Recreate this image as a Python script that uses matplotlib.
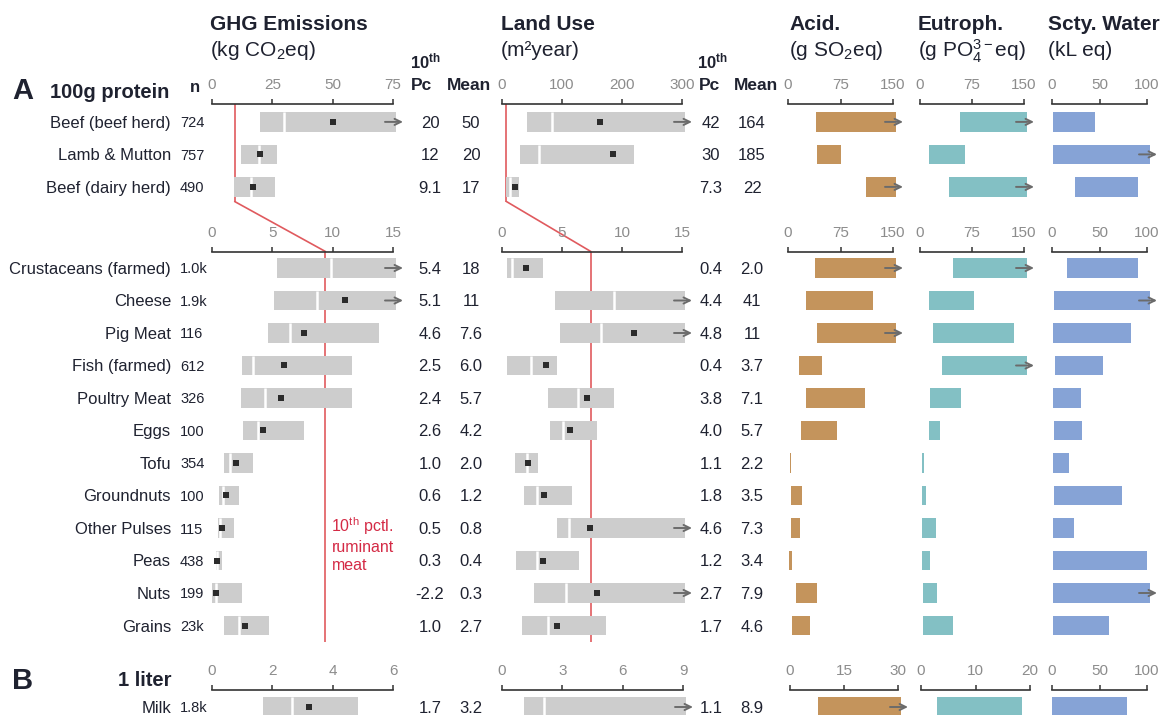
import matplotlib
matplotlib.use('Agg')
import matplotlib.pyplot as plt
from matplotlib import transforms as mtransforms
from matplotlib.patches import ConnectionPatch

plt.rcParams['font.family'] = ['Liberation Sans', 'DejaVu Sans']
plt.rcParams['mathtext.fontset'] = 'custom'
plt.rcParams['mathtext.rm'] = 'Liberation Sans'
plt.rcParams['mathtext.it'] = 'Liberation Sans:italic'
plt.rcParams['mathtext.bf'] = 'Liberation Sans:bold'

W, H = 1164, 715

# --- ruminant meats (upper block, wide scales) ---
meat_items = ['Beef (beef herd)', 'Lamb & Mutton', 'Beef (dairy herd)']
meat_n = ['724', '757', '490']
meat_ghg_p10 = [20, 12, 9.1]
meat_ghg_med = [30, 19.5, 16]
meat_ghg_mean = [50, 20, 17]
meat_ghg_p90 = [105, 27, 26]
meat_land_p10 = [42, 30, 7.3]
meat_land_med = [84, 62, 14]
meat_land_mean = [164, 185, 22]
meat_land_p90 = [370, 220, 29]
meat_acid_lo = [40, 42, 111]
meat_acid_hi = [250, 75, 200]
meat_eut_lo = [57, 13, 42]
meat_eut_hi = [300, 65, 250]
meat_wat_lo = [1, 1, 24]
meat_wat_hi = [45, 150, 91]

# --- other protein sources (lower block) ---
items = ['Crustaceans (farmed)', 'Cheese', 'Pig Meat', 'Fish (farmed)',
         'Poultry Meat', 'Eggs', 'Tofu', 'Groundnuts', 'Other Pulses',
         'Peas', 'Nuts', 'Grains']
n_obs = ['1.0k', '1.9k', '116', '612', '326', '100', '354', '100', '115',
         '438', '199', '23k']
ghg_p10 = [5.4, 5.1, 4.6, 2.5, 2.4, 2.6, 1.0, 0.6, 0.5, 0.3, -2.2, 1.0]
ghg_med = [9.9, 8.7, 6.5, 3.4, 4.4, 3.8, 1.5, 0.9, 0.65, 0.4, 0.35, 2.2]
ghg_mean = [18, 11, 7.6, 6.0, 5.7, 4.2, 2.0, 1.2, 0.8, 0.4, 0.3, 2.7]
ghg_p90 = [27, 18, 13.8, 11.6, 11.6, 7.6, 3.4, 2.2, 1.85, 0.8, 2.5, 4.75]
land_p10 = [0.4, 4.4, 4.8, 0.4, 3.8, 4.0, 1.1, 1.8, 4.6, 1.2, 2.7, 1.7]
land_med = [0.8, 9.3, 8.25, 2.4, 6.3, 5.1, 2.05, 2.9, 5.6, 2.9, 5.3, 3.8]
land_mean = [2.0, 41, 11, 3.7, 7.1, 5.7, 2.2, 3.5, 7.3, 3.4, 7.9, 4.6]
land_p90 = [3.4, 60, 20, 4.55, 9.3, 7.9, 3.0, 5.8, 22, 6.4, 25, 8.7]
acid_lo = [39, 26, 42, 15, 25, 18, 2.5, 4, 4.4, 1.5, 12, 6.3]
acid_hi = [190, 121, 170, 48, 110, 70, 4.5, 20, 17, 5, 42, 31]
eut_lo = [48, 13, 19, 32, 14, 13, 2.4, 2.4, 2.4, 2.4, 4.8, 3.8]
eut_hi = [240, 78, 136, 200, 59, 29, 6, 8, 22.5, 14, 25, 47]
wat_lo = [16, 1.7, 0.6, 3.5, 0.6, 1.7, 0.6, 1.7, 0.6, 0.6, 0.6, 0.6]
wat_hi = [90, 180, 83, 54, 30, 32, 18, 74, 23, 100, 200, 60]

# --- panel B: 1 liter of milk ---
milk_items = ['Milk']
milk_n = ['1.8k']
milk_ghg_p10 = [1.7]
milk_ghg_med = [2.66]
milk_ghg_mean = [3.2]
milk_ghg_p90 = [4.85]
milk_land_p10 = [1.1]
milk_land_med = [2.1]
milk_land_mean = [8.9]
milk_land_p90 = [20]
milk_acid_lo, milk_acid_hi = [7.7], [40]
milk_eut_lo, milk_eut_hi = [3.0], [18.5]
milk_wat_lo, milk_wat_hi = [0.4], [79]

# 10th percentile of ruminant meat, used as reference line
ruminant_ghg = 9.4
ruminant_land = 7.4

GREY = '#cdcdcd'
ARROW = '#6b6b6b'
ACID = '#c4945c'
EUT = '#83c0c4'
WAT = '#86a3d6'
RED = '#e05a5e'
TXT = '#1f2230'

ROW = 32.5
BAR_H = 0.6

fig = plt.figure(figsize=(W / 100, H / 100), dpi=100)
# pixel coordinates with origin at top-left
px = mtransforms.Affine2D().scale(1 / W, -1 / H).translate(0, 1) + fig.transFigure


def make_axes(x0, x1, spine_y, row0_y, bottom, xmax, ticks):
    top = (row0_y - spine_y) / ROW
    h = (bottom + top) * ROW
    ax = fig.add_axes([x0 / W, 1 - (spine_y + h) / H, (x1 - x0) / W, h / H])
    ax.set_xlim(0, xmax)
    ax.set_ylim(bottom, -top)
    ax.patch.set_visible(False)
    for side in ('left', 'right', 'bottom'):
        ax.spines[side].set_visible(False)
    ax.spines['top'].set_color('#333333')
    ax.spines['top'].set_linewidth(1.2)
    ax.xaxis.tick_top()
    ax.set_xticks(ticks)
    ax.set_xticklabels([str(t) for t in ticks])
    ax.tick_params(axis='x', direction='out', length=3.5, width=1.1,
                   color='#333333', labelsize=11, labelcolor='#8c8c8c', pad=5)
    ax.set_yticks([])
    return ax


def per_px(ax):
    # data units per pixel along x
    return ax.get_xlim()[1] / (ax.get_position().width * W)


def add_arrow(ax, y):
    xmax = ax.get_xlim()[1]
    k = per_px(ax)
    ax.annotate('', xy=(xmax + 10 * k, y), xytext=(xmax - 8 * k, y),
                arrowprops=dict(arrowstyle='->,head_length=0.45,head_width=0.22',
                                color=ARROW, lw=1.4, mutation_scale=10,
                                shrinkA=0, shrinkB=0),
                annotation_clip=False)


def draw_ranges(ax, p10, med, mean, p90):
    xmax = ax.get_xlim()[1]
    k = per_px(ax)
    for i, (lo, md, mu, hi) in enumerate(zip(p10, med, mean, p90)):
        left = max(lo, 0)
        right = min(hi, xmax + 3 * k)
        ax.barh(i, right - left, left=left, height=BAR_H, color=GREY,
                lw=0, clip_on=False)
        if left < md < right:
            ax.vlines(md, i - BAR_H / 2, i + BAR_H / 2, color='white', lw=1.8)
        clipped = hi > xmax
        if mu < xmax - (10 * k if clipped else 0):
            ax.plot(mu, i, 's', ms=5, color='#2b2b2b', mew=0)
        if clipped:
            add_arrow(ax, i)


def draw_bars(ax, lo, hi, color):
    xmax = ax.get_xlim()[1]
    k = per_px(ax)
    for i, (a, b) in enumerate(zip(lo, hi)):
        right = min(b, xmax + 3 * k)
        ax.barh(i, right - a, left=a, height=BAR_H, color=color, lw=0,
                clip_on=False)
        if b > xmax:
            add_arrow(ax, i)


def fmt(v):
    return f'{v:.1f}' if abs(v) < 10 else f'{v:.0f}'


def row_text(ax, labels, n, g_p10, g_mean, l_p10, l_mean):
    tr = mtransforms.blended_transform_factory(px, ax.transData)
    for i in range(len(labels)):
        ax.text(171, i, labels[i], transform=tr, ha='right',
                va='center_baseline', fontsize=12, color=TXT)
        ax.text(180, i, n[i], transform=tr, ha='left',
                va='center_baseline', fontsize=10.5, color=TXT)
        ax.text(430, i, fmt(g_p10[i]), transform=tr, ha='center',
                va='center_baseline', fontsize=12, color=TXT)
        ax.text(471, i, fmt(g_mean[i]), transform=tr, ha='center',
                va='center_baseline', fontsize=12, color=TXT)
        ax.text(711, i, fmt(l_p10[i]), transform=tr, ha='center',
                va='center_baseline', fontsize=12, color=TXT)
        ax.text(752, i, fmt(l_mean[i]), transform=tr, ha='center',
                va='center_baseline', fontsize=12, color=TXT)


# upper block
g_top = make_axes(212, 393, 104, 121.9, 2.45, 75, [0, 25, 50, 75])
l_top = make_axes(502, 682, 104, 121.9, 2.45, 300, [0, 100, 200, 300])
a_top = make_axes(788, 893, 104, 121.9, 2.45, 150, [0, 75, 150])
e_top = make_axes(920, 1024, 104, 121.9, 2.45, 150, [0, 75, 150])
w_top = make_axes(1052, 1147, 104, 121.9, 2.45, 100, [0, 50, 100])

# lower block
g_low = make_axes(212, 393, 251.5, 268, 11.5, 15, [0, 5, 10, 15])
l_low = make_axes(502, 682, 251.5, 268, 11.5, 15, [0, 5, 10, 15])
a_low = make_axes(788, 893, 251.5, 268, 11.5, 150, [0, 75, 150])
e_low = make_axes(920, 1024, 251.5, 268, 11.5, 150, [0, 75, 150])
w_low = make_axes(1052, 1147, 251.5, 268, 11.5, 100, [0, 50, 100])

# milk
g_b = make_axes(212, 393, 689.5, 707, 0.5, 6, [0, 2, 4, 6])
l_b = make_axes(502, 683, 689.5, 707, 0.5, 9, [0, 3, 6, 9])
a_b = make_axes(790, 898, 689.5, 707, 0.5, 30, [0, 15, 30])
e_b = make_axes(921, 1030, 689.5, 707, 0.5, 20, [0, 10, 20])
w_b = make_axes(1052, 1147, 689.5, 707, 0.5, 100, [0, 50, 100])

# reference line for ruminant meat
for top_ax, low_ax, val in ((g_top, g_low, ruminant_ghg),
                            (l_top, l_low, ruminant_land)):
    top_ax.plot([val, val], [top_ax.get_ylim()[1], top_ax.get_ylim()[0]],
                color=RED, lw=1.2, zorder=0)
    low_ax.plot([val, val], [low_ax.get_ylim()[1], low_ax.get_ylim()[0]],
                color=RED, lw=1.2, zorder=0)
    fig.add_artist(ConnectionPatch(
        xyA=(val, top_ax.get_ylim()[0]), coordsA=top_ax.transData,
        xyB=(val, low_ax.get_ylim()[1]), coordsB=low_ax.transData,
        color=RED, lw=1.2, zorder=0))

draw_ranges(g_top, meat_ghg_p10, meat_ghg_med, meat_ghg_mean, meat_ghg_p90)
draw_ranges(l_top, meat_land_p10, meat_land_med, meat_land_mean, meat_land_p90)
draw_bars(a_top, meat_acid_lo, meat_acid_hi, ACID)
draw_bars(e_top, meat_eut_lo, meat_eut_hi, EUT)
draw_bars(w_top, meat_wat_lo, meat_wat_hi, WAT)

draw_ranges(g_low, ghg_p10, ghg_med, ghg_mean, ghg_p90)
draw_ranges(l_low, land_p10, land_med, land_mean, land_p90)
draw_bars(a_low, acid_lo, acid_hi, ACID)
draw_bars(e_low, eut_lo, eut_hi, EUT)
draw_bars(w_low, wat_lo, wat_hi, WAT)

draw_ranges(g_b, milk_ghg_p10, milk_ghg_med, milk_ghg_mean, milk_ghg_p90)
draw_ranges(l_b, milk_land_p10, milk_land_med, milk_land_mean, milk_land_p90)
draw_bars(a_b, milk_acid_lo, milk_acid_hi, ACID)
draw_bars(e_b, milk_eut_lo, milk_eut_hi, EUT)
draw_bars(w_b, milk_wat_lo, milk_wat_hi, WAT)

row_text(g_top, meat_items, meat_n, meat_ghg_p10, meat_ghg_mean,
         meat_land_p10, meat_land_mean)
row_text(g_low, items, n_obs, ghg_p10, ghg_mean, land_p10, land_mean)
row_text(g_b, milk_items, milk_n, milk_ghg_p10, milk_ghg_mean,
         milk_land_p10, milk_land_mean)

g_low.text(ruminant_ghg + 0.5, 7.62,
           '10$^{\\rm th}$ pctl.\nruminant\nmeat', ha='left', va='top',
           fontsize=11.5, color='#d42a45', linespacing=1.25)

# headers
def ftext(x, y, s, **kw):
    kw.setdefault('color', TXT)
    fig.text(x, y, s, transform=px, **kw)


ftext(12, 91, 'A', fontsize=21, fontweight='bold', va='center')
ftext(50, 92, '100g protein', fontsize=14.5, fontweight='bold', va='center')
ftext(190, 88, 'n', fontsize=12, fontweight='bold', va='center')
ftext(12, 681, 'B', fontsize=21, fontweight='bold', va='center')
ftext(172, 680, '1 liter', fontsize=14.5, fontweight='bold', ha='right',
      va='center')

titles = [(210, 'GHG Emissions', '(kg CO$_2$eq)'),
          (501, 'Land Use', '(m²year)'),
          (789, 'Acid.', '(g SO$_2$eq)'),
          (918, 'Eutroph.', '(g PO$_4^{3\u2212}$eq)'),
          (1048, 'Scty. Water', '(kL eq)')]
for x, head, unit in titles:
    ftext(x, 24, head, fontsize=15, fontweight='bold', va='center')
    ftext(x, 51, unit, fontsize=15, va='center')

for pc_x, mean_x in ((425, 469), (712, 756)):
    ftext(pc_x, 61, '10$^{\\mathbf{th}}$', fontsize=12, fontweight='bold',
          ha='center', va='center')
    ftext(pc_x - 3, 85, 'Pc', fontsize=12.5, fontweight='bold', ha='center',
          va='center')
    ftext(mean_x, 85, 'Mean', fontsize=12.5, fontweight='bold', ha='center',
          va='center')

fig.savefig('out.png', dpi=100)
